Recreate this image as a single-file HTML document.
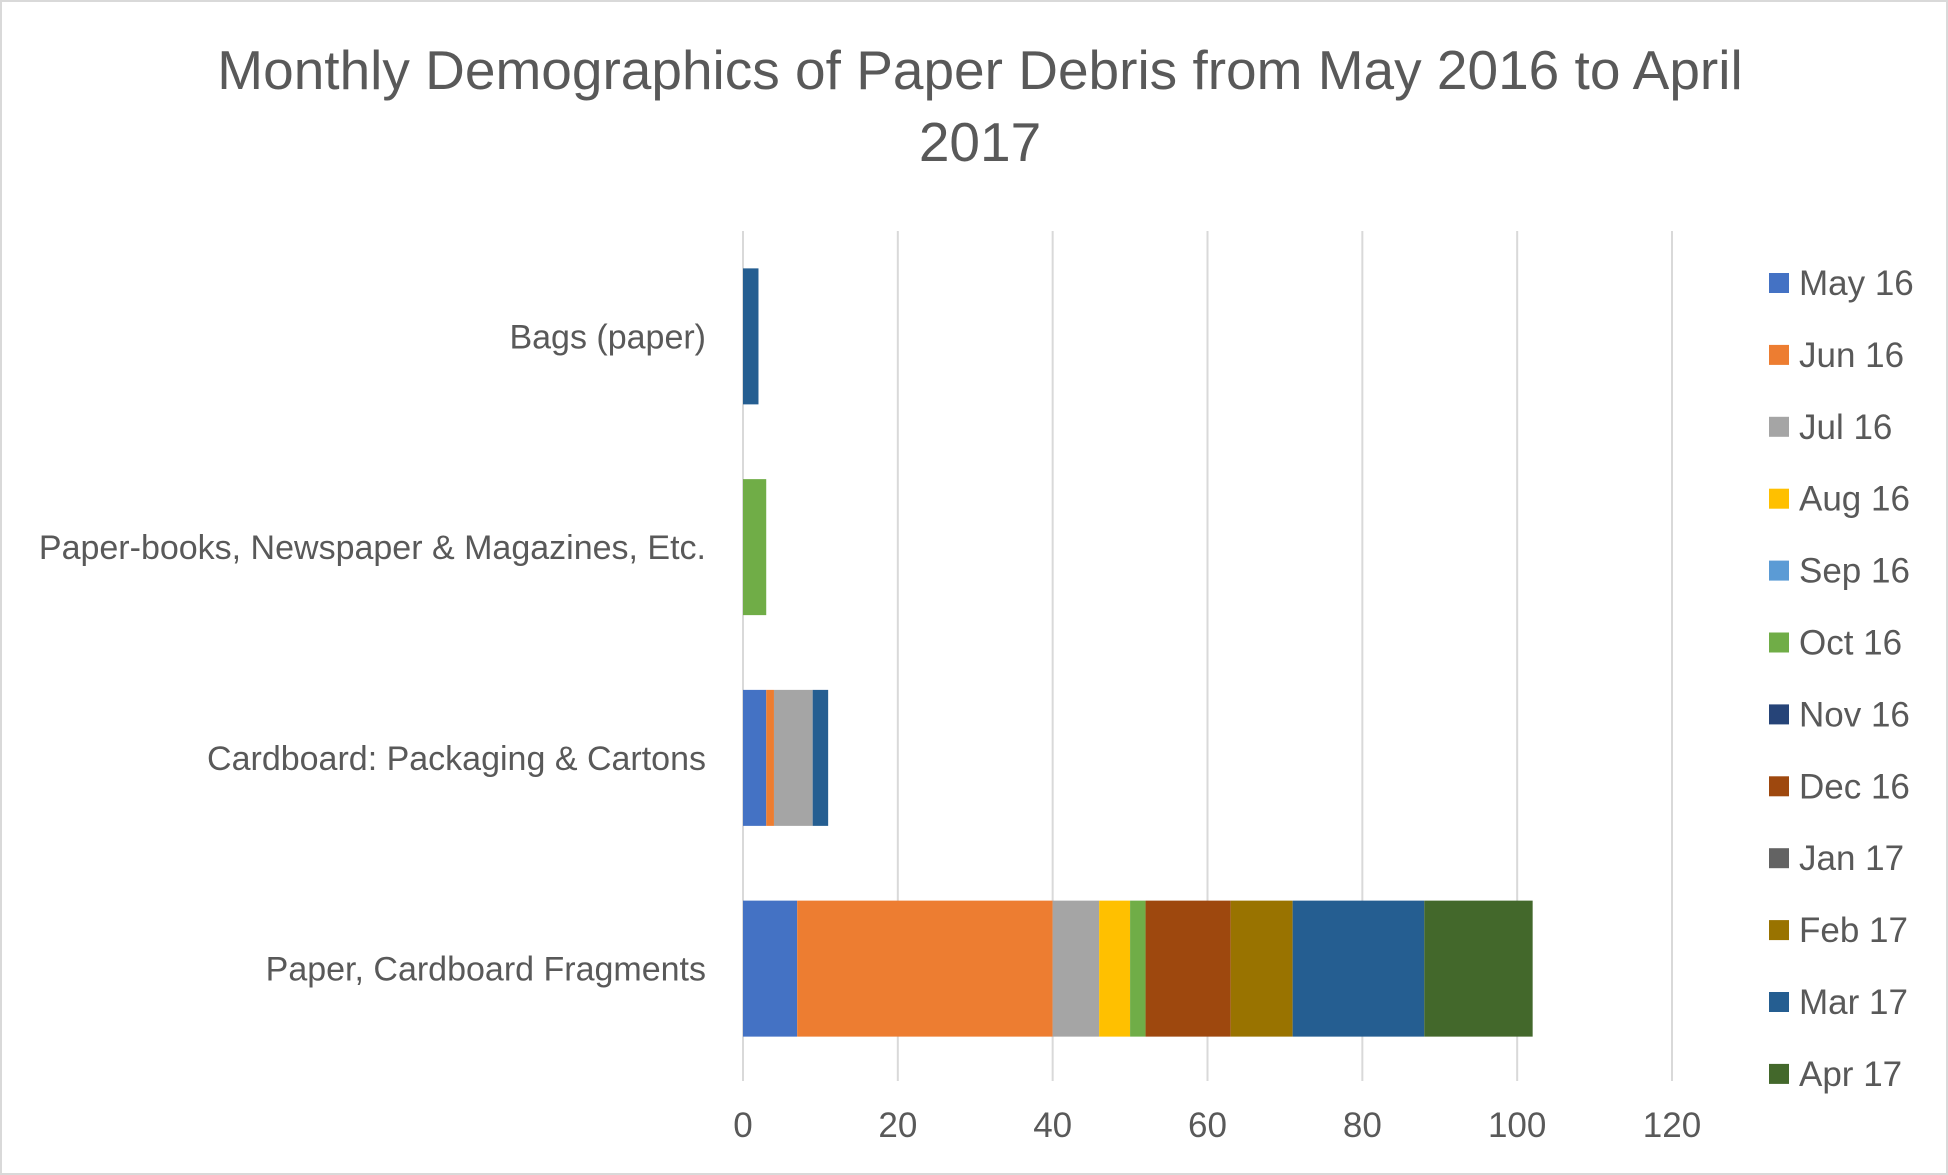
<!DOCTYPE html>
<html><head><meta charset="utf-8"><style>
html,body{margin:0;padding:0;background:#fff;}
svg{display:block;font-family:"Liberation Sans",sans-serif;}
</style></head><body>
<svg id="chart" width="1948" height="1175">
<rect x="1" y="1" width="1946" height="1173" fill="#fff" stroke="#d9d9d9" stroke-width="2"/>
<text x="980" y="89" text-anchor="middle" font-size="55" fill="#595959">Monthly Demographics of Paper Debris from May 2016 to April</text>
<text x="980" y="161" text-anchor="middle" font-size="55" fill="#595959">2017</text>
<g id="grid"></g><g id="bars"></g><g id="xlabels"></g><g id="ylabels"></g><g id="legend"></g>
</svg>
<script>
const categories = ["Bags (paper)","Paper-books, Newspaper & Magazines, Etc.","Cardboard: Packaging & Cartons","Paper, Cardboard Fragments"];
const months = ["May 16","Jun 16","Jul 16","Aug 16","Sep 16","Oct 16","Nov 16","Dec 16","Jan 17","Feb 17","Mar 17","Apr 17"];
const colors = ["#4472c4","#ed7d31","#a5a5a5","#ffc000","#5b9bd5","#70ad47","#264478","#9e480e","#636363","#997300","#255e91","#43682b"];
// values per month, ordered by categories
const may16 = [0,0,3,7];
const jun16 = [0,0,1,33];
const jul16 = [0,0,5,6];
const aug16 = [0,0,0,4];
const sep16 = [0,0,0,0];
const oct16 = [0,3,0,2];
const nov16 = [0,0,0,0];
const dec16 = [0,0,0,11];
const jan17 = [0,0,0,0];
const feb17 = [0,0,0,8];
const mar17 = [2,0,2,17];
const apr17 = [0,0,0,14];
const series = [may16,jun16,jul16,aug16,sep16,oct16,nov16,dec16,jan17,feb17,mar17,apr17];
const ticks = [0,20,40,60,80,100,120];

const NS="http://www.w3.org/2000/svg";
const X0=743, X1=1672, XMAX=120, YT=231, YB=1081, YBAND=1074;
const xs = v => X0 + (X1-X0)*v/XMAX;
const band = (YBAND-YT)/categories.length;
const BH = 136;
function mk(tag, attrs, parent){const e=document.createElementNS(NS,tag);for(const k in attrs)e.setAttribute(k,attrs[k]);parent.appendChild(e);return e;}
const grid=document.getElementById('grid'), bars=document.getElementById('bars'), xl=document.getElementById('xlabels'), yl=document.getElementById('ylabels'), lg=document.getElementById('legend');
ticks.forEach(t=>{
  const l=mk('line',{x1:xs(t),x2:xs(t),y1:YT,y2:YB,stroke:'#d9d9d9','stroke-width':2},grid);
  
  
  const tx=mk('text',{x:xs(t),y:1137,'text-anchor':'middle','font-size':35,fill:'#595959'},xl);
  tx.textContent=t;
  
  
});
categories.forEach((c,i)=>{
  const cy=YT+band*(i+0.5);
  const tx=mk('text',{x:706,y:cy+12,'text-anchor':'end','font-size':34,fill:'#595959'},yl);
  tx.textContent=c;
  
  
  let acc=0;
  series.forEach((s,j)=>{
    const v=s[i]; if(!v) return;
    const r=mk('rect',{x:xs(acc),y:cy-BH/2,width:xs(acc+v)-xs(acc),height:BH,fill:colors[j]},bars);
    
    
    acc+=v;
  });
});
months.forEach((m,j)=>{
  const y=283+j*71.9;
  const r=mk('rect',{x:1769,y:y-10,width:20,height:20,fill:colors[j]},lg);
  
  
  const t=mk('text',{x:1799,y:y+12,'font-size':35,fill:'#595959'},lg);
  t.textContent=m;
  
  
});
</script>
</body></html>
